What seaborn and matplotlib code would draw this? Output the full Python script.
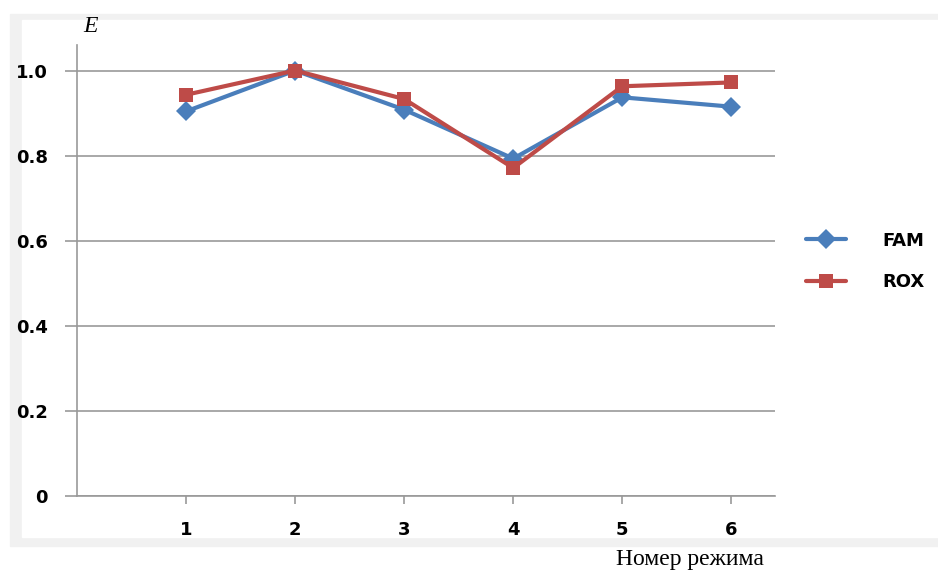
import matplotlib.pyplot as plt
import matplotlib.patches as mpatches
import numpy as np
import pandas as pd
import seaborn as sns

# measured efficiency per regime
regimes = [1, 2, 3, 4, 5, 6]
fam = [0.904, 1.0, 0.908, 0.793, 0.937, 0.915]
rox = [0.943, 1.0, 0.933, 0.771, 0.963, 0.972]

data = pd.DataFrame({'regime': regimes * 2,
                     'E': fam + rox,
                     'dye': ['FAM'] * len(regimes) + ['ROX'] * len(regimes)})

sns.set_style('white')
plt.rcParams['font.family'] = ['DejaVu Sans']
plt.rcParams['text.color'] = 'black'

fig = plt.figure(figsize=(9.38, 5.73), dpi=100)
# light grey frame of the scanned figure
fig.patches.append(mpatches.Rectangle((10 / 938, 27 / 573), 928 / 938, 532 / 573,
                                      transform=fig.transFigure, color='#f1f1f1', zorder=-2))
fig.patches.append(mpatches.Rectangle((22 / 938, 36 / 573), 916 / 938, 517 / 573,
                                      transform=fig.transFigure, color='white', zorder=-1))

ax = fig.add_axes([77 / 938, 1 - 496 / 573, 698 / 938, 451 / 573])
ax.patch.set_alpha(0)

sns.lineplot(data=data, x='regime', y='E', hue='dye', style='dye',
             palette={'FAM': '#4a7ebb', 'ROX': '#be4b48'},
             markers={'FAM': 'D', 'ROX': 's'}, dashes=False,
             markersize=10, linewidth=3, markeredgewidth=0, ax=ax)

ax.set_xlim(0, 6.4)
ax.set_ylim(0, 1.06)
ax.set_xticks(regimes)
ax.set_xticklabels([str(r) for r in regimes], fontweight='bold', fontsize=13)
ax.set_yticks([0, 0.2, 0.4, 0.6, 0.8, 1.0])
ax.set_yticklabels(['0', '0.2', '0.4', '0.6', '0.8', '1.0'], fontweight='bold', fontsize=13)
ax.grid(axis='y', color='#999999', linewidth=1.2)
ax.set_axisbelow(True)
for s in ('top', 'right'):
    ax.spines[s].set_visible(False)
for s in ('left', 'bottom'):
    ax.spines[s].set_color('#999999')
    ax.spines[s].set_linewidth(1.2)
ax.tick_params(axis='x', length=6, color='#999999', width=1.2, pad=12, direction='out',
               bottom=True, labelcolor='black')
ax.tick_params(axis='y', length=9, color='#999999', width=1.2, pad=12, left=True,
               labelcolor='black')
ax.set_xlabel('')
ax.set_ylabel('')

fig.text(90 / 938, 1 - 27 / 573, 'E', family='Liberation Serif', style='italic',
         fontsize=17, ha='center', va='center')
fig.text(690 / 938, 1 - 560 / 573, 'Номер режима', family='Liberation Serif',
         fontsize=17, ha='center', va='center')

leg = ax.legend(loc='center left', bbox_to_anchor=(1.045, 0.52), frameon=False,
                borderaxespad=0, borderpad=0,
                handlelength=2.2, handletextpad=2.0, labelspacing=1.3,
                prop={'weight': 'bold', 'size': 13})
for t in leg.get_texts():
    t.set_color('black')

fig.savefig('out.png', dpi=100)
